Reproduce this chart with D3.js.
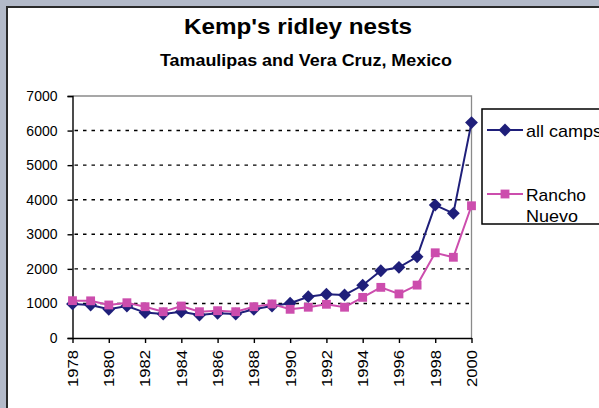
<!DOCTYPE html>
<html><head><meta charset="utf-8">
<script src="https://cdn.jsdelivr.net/npm/d3@7"></script>
<style>html,body{margin:0;padding:0;background:#b3bac9;overflow:hidden}</style>
</head><body>
<svg id="c" width="599" height="408"></svg>
<script>
const years = [1978,1979,1980,1981,1982,1983,1984,1985,1986,1987,1988,1989,1990,1991,1992,1993,1994,1995,1996,1997,1998,1999,2000];
const allCamps = [985,955,830,925,735,695,760,665,715,695,830,925,1005,1195,1265,1245,1525,1945,2045,2350,3845,3605,6230];
const ranchoNuevo = [1080,1075,955,1020,905,760,925,760,790,760,905,985,830,890,975,890,1175,1465,1275,1530,2465,2335,3825];
const yTicks = [0,1000,2000,3000,4000,5000,6000,7000];
const xTickYears = [1978,1980,1982,1984,1986,1988,1990,1992,1994,1996,1998,2000];
const seriesNames = ["all camps", "Rancho Nuevo"];

const svg = d3.select("#c");
const font = "Liberation Sans, Arial, sans-serif";
svg.append("rect").attr("x",0).attr("y",0).attr("width",599).attr("height",408).attr("fill","#b3bac9");
svg.append("rect").attr("x",7).attr("y",7).attr("width",600).attr("height",410)
  .attr("fill","#ffffff").attr("stroke","#2a2a2a").attr("stroke-width",2);

svg.append("text").attr("x",298).attr("y",34).attr("text-anchor","middle")
  .attr("font-family",font).attr("font-weight","bold").attr("font-size",22).attr("fill","#000")
  .attr("textLength",228).attr("lengthAdjust","spacingAndGlyphs")
  .text("Kemp's ridley nests");
svg.append("text").attr("x",306).attr("y",66).attr("text-anchor","middle")
  .attr("font-family",font).attr("font-weight","bold").attr("font-size",16).attr("fill","#000")
  .attr("textLength",292).attr("lengthAdjust","spacingAndGlyphs")
  .text("Tamaulipas and Vera Cruz, Mexico");

const L = 72.5, R = 471.5, T = 96, B = 338;
const x = d3.scaleLinear().domain([1978,2000]).range([L,R]);
const y = d3.scaleLinear().domain([0,7000]).range([B,T]);

// gridlines
svg.append("g").selectAll("line").data(yTicks.filter(v=>v>0 && v<7000)).join("line")
  .attr("x1",L+2).attr("x2",R).attr("y1",d=>y(d)).attr("y2",d=>y(d))
  .attr("stroke","#000").attr("stroke-width",1.4).attr("stroke-dasharray","3.5,5");
// plot border top/right
svg.append("path").attr("d",`M${L},${T}H${R}V${B}`).attr("fill","none").attr("stroke","#8a8a8a").attr("stroke-width",1.3);

// y axis
const yAxis = d3.axisLeft(y).tickValues(yTicks).tickSize(5).tickPadding(10).tickFormat(d3.format("d"));
const gy = svg.append("g").attr("transform",`translate(${L},0)`).call(yAxis);
gy.select(".domain").attr("stroke","#000").attr("stroke-width",1.4);
gy.selectAll(".tick line").attr("stroke","#000").attr("stroke-width",1.4);
gy.selectAll("text").attr("font-family",font).attr("font-size",14).attr("fill","#000");

// x axis
const xAxis = d3.axisBottom(x).tickValues(xTickYears).tickSize(5).tickSizeOuter(0).tickPadding(6).tickFormat(d3.format("d"));
const gx = svg.append("g").attr("transform",`translate(0,${B})`).call(xAxis);
gx.select(".domain").attr("stroke","#000").attr("stroke-width",1.4);
gx.selectAll(".tick line").attr("stroke","#000").attr("stroke-width",1.4);
gx.selectAll("text").attr("font-family",font).attr("font-size",14).attr("fill","#000")
  .attr("transform","rotate(-90)").attr("text-anchor","end").attr("x",-12).attr("y",0).attr("dy","0.35em")
  .attr("textLength",37).attr("lengthAdjust","spacingAndGlyphs");

const blue = "#1f1f7a", pink = "#cc4dad";
const line = d3.line().x((d,i)=>x(years[i])).y(d=>y(d));
const diamond = d3.symbol().type(d3.symbolDiamond2).size(105);
const square = d3.symbol().type(d3.symbolSquare).size(78);

svg.append("path").datum(allCamps).attr("d",line).attr("fill","none").attr("stroke",blue).attr("stroke-width",2);
svg.append("g").selectAll("path").data(allCamps).join("path")
  .attr("d",diamond).attr("transform",(d,i)=>`translate(${x(years[i])},${y(d)})`).attr("fill",blue);
svg.append("path").datum(ranchoNuevo).attr("d",line).attr("fill","none").attr("stroke",pink).attr("stroke-width",2);
svg.append("g").selectAll("path").data(ranchoNuevo).join("path")
  .attr("d",square).attr("transform",(d,i)=>`translate(${x(years[i])},${y(d)})`).attr("fill",pink);

// legend
const lg = svg.append("g");
lg.append("rect").attr("x",482).attr("y",109).attr("width",140).attr("height",115)
  .attr("fill","#fff").attr("stroke","#000").attr("stroke-width",1.5);
lg.append("line").attr("x1",487).attr("x2",523).attr("y1",130).attr("y2",130).attr("stroke",blue).attr("stroke-width",2);
lg.append("path").attr("d",diamond).attr("transform","translate(505,130)").attr("fill",blue);
lg.append("text").attr("x",526).attr("y",137).attr("font-family",font).attr("font-size",17).attr("fill","#000")
  .attr("textLength",76).attr("lengthAdjust","spacingAndGlyphs").text(seriesNames[0]);
lg.append("line").attr("x1",487).attr("x2",523).attr("y1",194).attr("y2",194).attr("stroke",pink).attr("stroke-width",2);
lg.append("path").attr("d",square).attr("transform","translate(505,194)").attr("fill",pink);
const parts = seriesNames[1].split(" ");
const lens = [60, 52];
lg.append("g").selectAll("text").data(parts).join("text")
  .attr("font-family",font).attr("font-size",17).attr("fill","#000")
  .attr("x",526).attr("y",(d,i)=>201+i*21)
  .attr("textLength",(d,i)=>lens[i]).attr("lengthAdjust","spacingAndGlyphs").text(d=>d);
</script>
</body></html>
